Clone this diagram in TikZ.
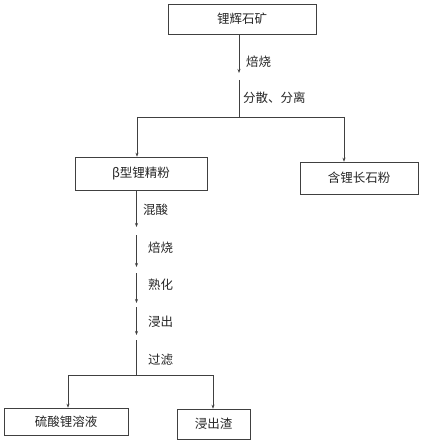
\documentclass[tikz,border=0pt]{standalone}
\usepackage{fontspec}
\setmainfont{Noto Sans CJK SC}
\usetikzlibrary{arrows.meta, positioning}
\definecolor{flowLine}{HTML}{404040}
\definecolor{flowText}{HTML}{262626}

\begin{document}
\begin{tikzpicture}[
  x=1pt, y=-1pt,
  font=\fontsize{12.5}{14}\selectfont, text=flowText,
  box/.style={draw=flowLine, line width=0.6pt, inner sep=0pt, align=center},
  lbl/.style={anchor=west, inner sep=0pt},
  a/.style={-{Stealth[length=4pt, width=3pt]}, line width=0.6pt, draw=flowLine},
  ln/.style={line width=0.6pt, draw=flowLine}
]
\useasboundingbox (0,0) rectangle (425,443);

\node[box, minimum width=148pt, minimum height=30pt] (ore) at (242,19) {锂辉石矿};
\node[box, minimum width=132pt, minimum height=33pt] (beta) at (141,173.5) {β型锂精粉};
\node[box, minimum width=118pt, minimum height=32pt] (feld) at (359,178) {含锂长石粉};
\node[box, minimum width=124pt, minimum height=27pt] (sol) at (66,421.5) {硫酸锂溶液};
\node[box, minimum width=73pt, minimum height=30pt] (res) at (213.5,424) {浸出渣};

% upper branch
\coordinate (t1) at (239,73);
\coordinate (t2) at (239,80);
\coordinate (split) at (239,117);
\coordinate (sl) at (137,117);
\coordinate (sr) at (344,117);
\draw[a] (ore.south -| t1) -- (t1);
\draw[ln] (t2) -- (split);
\draw[ln] (sl) -- (sr);
\draw[a] (sl) -- (sl |- beta.north);
\draw[a] (sr) -- (sr |- feld.north);
\node[lbl] (l1) at (246,62) {焙烧};
\node[lbl] (l2) at (243,98) {分散、分离};

% acid route
\coordinate (m1) at (136.5,227);
\coordinate (m2) at (136.5,235);
\coordinate (m3) at (136.5,267);
\coordinate (m4) at (136.5,273);
\coordinate (m5) at (136.5,303);
\coordinate (m6) at (136.5,307);
\coordinate (m7) at (136.5,335);
\coordinate (m8) at (136.5,340);
\coordinate (m9) at (136.5,375);
\coordinate (bl) at (68,375);
\coordinate (br) at (213,375);
\draw[a] (beta.south -| m1) -- (m1);
\draw[a] (m2) -- (m3);
\draw[a] (m4) -- (m5);
\draw[a] (m6) -- (m7);
\draw[ln] (m8) -- (m9);
\draw[ln] (bl) -- (br);
\draw[a] (bl) -- (bl |- sol.north);
\draw[a] (br) -- (br |- res.north);
\node[lbl] (l3) at (143,210) {混酸};
\node[lbl] (l4) at (148,248) {焙烧};
\node[lbl] (l5) at (148,285) {熟化};
\node[lbl] (l6) at (148,322) {浸出};
\node[lbl] (l7) at (148,360) {过滤};
\end{tikzpicture}
\end{document}
